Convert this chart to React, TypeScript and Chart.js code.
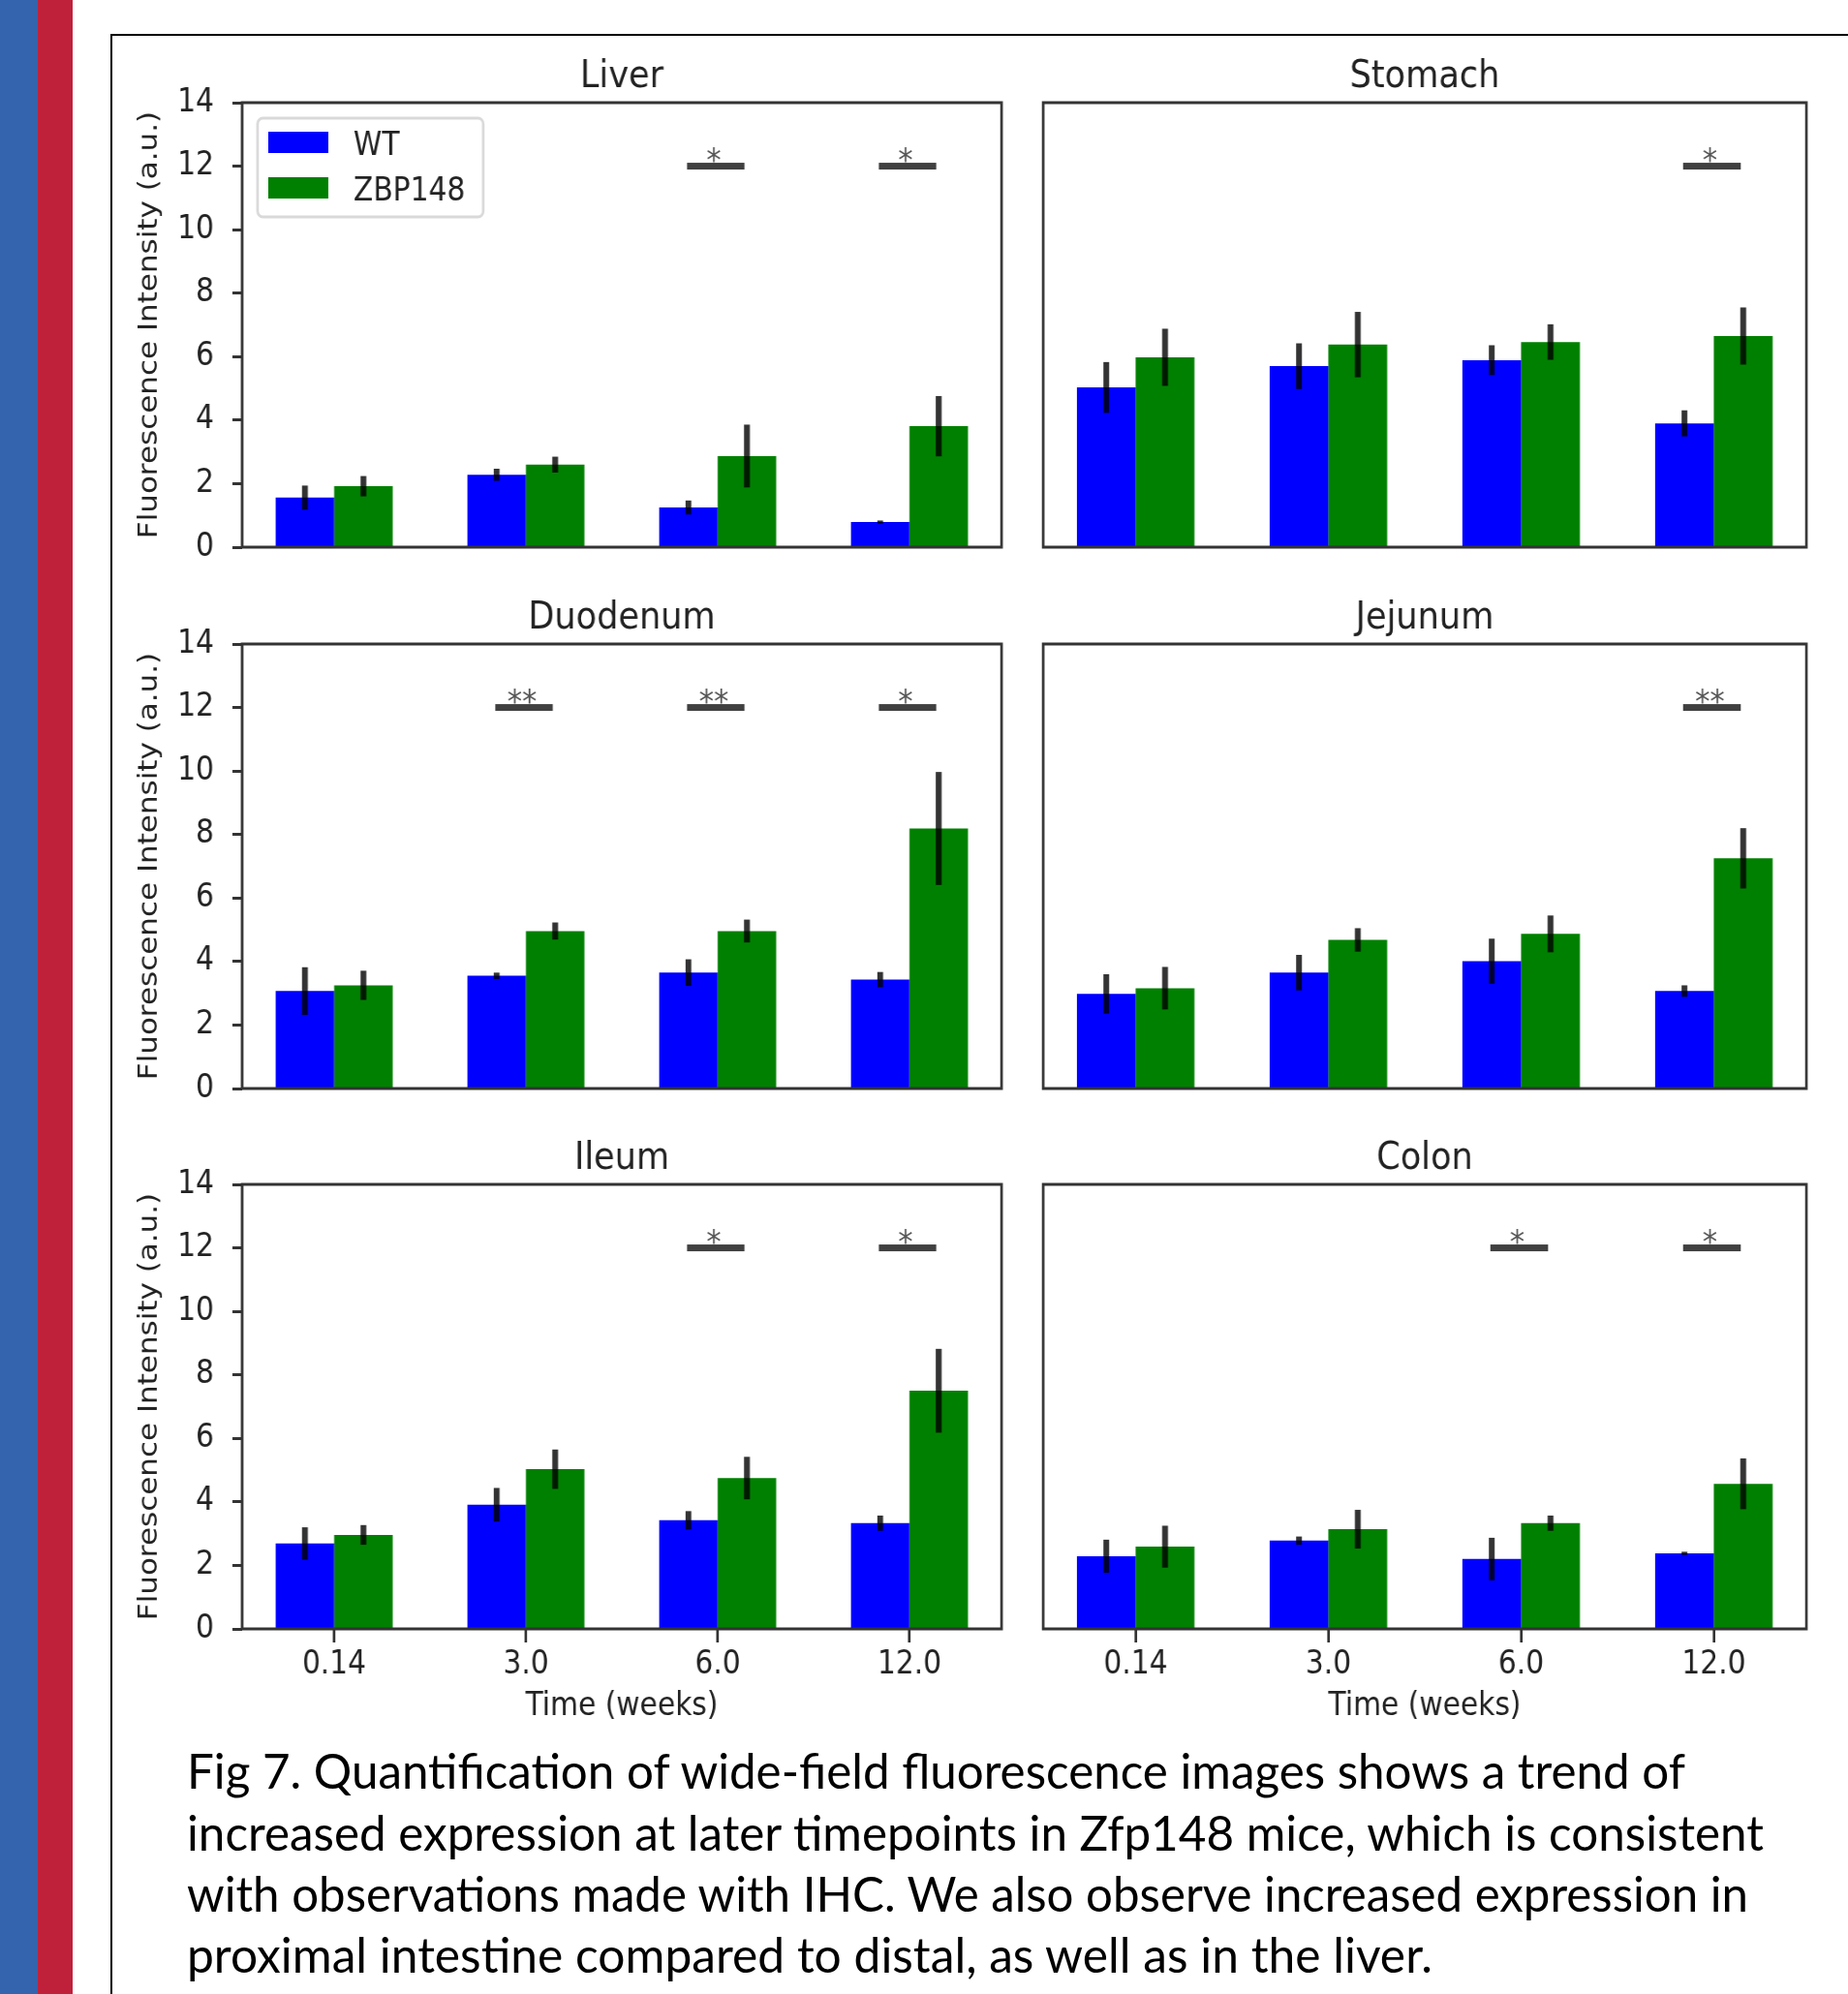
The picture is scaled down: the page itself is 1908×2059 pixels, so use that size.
import React, { useEffect, useLayoutEffect, useRef } from 'react';
import { Chart, registerables } from 'chart.js';

Chart.register(...registerables);

// ---------------- data ----------------
const categories = ['0.14', '3.0', '6.0', '12.0'];
const seriesNames = ['WT', 'ZBP148'];
const seriesColors = ['#0000ff', '#008000'];
const yMin = 0;
const yMax = 14;
const yStep = 2;
const sigLevel = 12;
const xTitle = 'Time (weeks)';
const yTitle = 'Fluorescence Intensity (a.u.)';

const liverWT = [1.56, 2.28, 1.25, 0.79];
const liverWTErr = [0.38, 0.19, 0.22, 0.05];
const liverZBP = [1.92, 2.6, 2.87, 3.81];
const liverZBPErr = [0.32, 0.25, 0.99, 0.95];
const liverSig = ['', '', '*', '*'];

const stomachWT = [5.03, 5.7, 5.89, 3.9];
const stomachWTErr = [0.8, 0.72, 0.47, 0.41];
const stomachZBP = [5.98, 6.38, 6.46, 6.65];
const stomachZBPErr = [0.9, 1.03, 0.56, 0.9];
const stomachSig = ['', '', '', '*'];

const duodenumWT = [3.07, 3.55, 3.65, 3.43];
const duodenumWTErr = [0.75, 0.1, 0.42, 0.24];
const duodenumZBP = [3.25, 4.96, 4.96, 8.19];
const duodenumZBPErr = [0.46, 0.27, 0.36, 1.78];
const duodenumSig = ['', '**', '**', '*'];

const jejunumWT = [2.98, 3.65, 4.01, 3.07];
const jejunumWTErr = [0.62, 0.56, 0.71, 0.18];
const jejunumZBP = [3.16, 4.68, 4.87, 7.25];
const jejunumZBPErr = [0.67, 0.37, 0.58, 0.95];
const jejunumSig = ['', '', '', '**'];

const ileumWT = [2.69, 3.91, 3.42, 3.33];
const ileumWTErr = [0.51, 0.53, 0.29, 0.24];
const ileumZBP = [2.96, 5.03, 4.75, 7.5];
const ileumZBPErr = [0.31, 0.62, 0.67, 1.32];
const ileumSig = ['', '', '*', '*'];

const colonWT = [2.29, 2.78, 2.2, 2.38];
const colonWTErr = [0.52, 0.13, 0.67, 0.05];
const colonZBP = [2.59, 3.14, 3.33, 4.57];
const colonZBPErr = [0.66, 0.61, 0.24, 0.8];
const colonSig = ['', '', '*', '*'];

const captionLines = [
  'Fig 7. Quantification of wide-field fluorescence images shows a trend of',
  'increased expression at later timepoints in Zfp148 mice, which is consistent',
  'with observations made with IHC. We also observe increased expression in',
  'proximal intestine compared to distal, as well as in the liver.',
];

// ---------------- layout ----------------
const SX = 0.9; // horizontal compression of the figure
const FONT = '"DejaVu Sans", "Liberation Sans", sans-serif';
const COLS = [
  { axL: 250, axR: 1034, padL: 135 },
  { axL: 1077, axR: 1865, padL: 20 },
];
const ROW_TOPS = [106, 665, 1223];
const AX_H = 459;
const PAD_T = 75;
const PAD_R = 15;
const TEXT = '#222';

const CAPTION_LEFT = 193;
const CAPTION_ENDS = [1740, 1821, 1805, 1479];
const CAPTION_BASELINES = [1847, 1911, 1974, 2037];
const CAPTION_SIZE = 50;

type PanelProps = {
  title: string;
  wt: number[];
  wtErr: number[];
  zbp: number[];
  zbpErr: number[];
  sig: string[];
  row: number;
  col: number;
  legend?: boolean;
};

function Panel(p: PanelProps) {
  const ref = useRef<HTMLCanvasElement | null>(null);
  const c = COLS[p.col];
  const axTop = ROW_TOPS[p.row];
  const showX = p.row === 2;
  const showY = p.col === 0;
  const padB = showX ? 115 : 60;
  const cssW = c.padL + (c.axR - c.axL) + PAD_R;
  const cssH = PAD_T + AX_H + padB;
  const logW = Math.round(cssW / SX);

  useEffect(() => {
    const canvas = ref.current;
    if (!canvas) return;
    const errs = [p.wtErr, p.zbpErr];

    const panelPlugin = {
      id: 'panelDecor',
      afterDatasetsDraw(chart: any) {
        const { ctx } = chart;
        const xs = chart.scales.x;
        const ys = chart.scales.y;
        ctx.save();
        // error bars
        chart.data.datasets.forEach((ds: any, di: number) => {
          const meta = chart.getDatasetMeta(di);
          meta.data.forEach((el: any, i: number) => {
            const v = ds.data[i].y;
            const e = errs[di][i];
            ctx.strokeStyle = 'rgba(0,0,0,0.8)';
            ctx.lineWidth = 6 / SX;
            ctx.beginPath();
            ctx.moveTo(el.x, ys.getPixelForValue(v + e));
            ctx.lineTo(el.x, ys.getPixelForValue(v - e));
            ctx.stroke();
          });
        });
        // significance markers
        const yS = ys.getPixelForValue(sigLevel);
        p.sig.forEach((s, i) => {
          if (!s) return;
          const x0 = xs.getPixelForValue(i - 0.16);
          const x1 = xs.getPixelForValue(i + 0.14);
          ctx.fillStyle = '#404040';
          ctx.fillRect(x0, yS - 3.5, x1 - x0, 7);
          ctx.fillStyle = '#555';
          ctx.font = `34px ${FONT}`;
          ctx.textAlign = 'center';
          ctx.textBaseline = 'alphabetic';
          ctx.fillText(s, xs.getPixelForValue(i - 0.02), yS + 5);
        });
        ctx.restore();
      },
      afterDraw(chart: any) {
        const { ctx, chartArea: ca } = chart;
        ctx.save();
        ctx.strokeStyle = '#333';
        ctx.lineWidth = 3;
        ctx.strokeRect(ca.left, ca.top, ca.right - ca.left, ca.bottom - ca.top);
        ctx.fillStyle = TEXT;
        ctx.font = `39px ${FONT}`;
        ctx.textAlign = 'center';
        ctx.textBaseline = 'alphabetic';
        ctx.fillText(p.title, (ca.left + ca.right) / 2, ca.top - 16);
        if (p.legend) {
          const bx = ca.left + 16 / SX;
          const by = ca.top + 16;
          const bw = 233 / SX;
          const bh = 102;
          ctx.beginPath();
          if ((ctx as any).roundRect) (ctx as any).roundRect(bx, by, bw, bh, 6);
          else ctx.rect(bx, by, bw, bh);
          ctx.fillStyle = 'rgba(255,255,255,0.85)';
          ctx.fill();
          ctx.strokeStyle = '#d9d9d9';
          ctx.lineWidth = 3;
          ctx.stroke();
          chart.data.datasets.forEach((ds: any, di: number) => {
            ctx.fillStyle = ds.backgroundColor;
            ctx.fillRect(bx + 11 / SX, by + 14 + di * 47, 62 / SX, 22);
            ctx.fillStyle = TEXT;
            ctx.font = `33px ${FONT}`;
            ctx.textAlign = 'left';
            ctx.fillText(ds.label, bx + 99 / SX, by + 38 + di * 47);
          });
        }
        ctx.restore();
      },
    };

    const chart = new Chart(canvas, {
      type: 'bar',
      data: {
        datasets: [
          {
            label: seriesNames[0],
            data: p.wt.map((y, i) => ({ x: i, y })),
            backgroundColor: seriesColors[0],
          },
          {
            label: seriesNames[1],
            data: p.zbp.map((y, i) => ({ x: i, y })),
            backgroundColor: seriesColors[1],
          },
        ],
      } as any,
      options: {
        responsive: false,
        maintainAspectRatio: false,
        animation: false,
        devicePixelRatio: 1,
        events: [],
        layout: { padding: { left: 0, right: PAD_R / SX, top: PAD_T, bottom: 0 } },
        datasets: { bar: { categoryPercentage: 0.61, barPercentage: 1, borderWidth: 0 } },
        plugins: {
          legend: { display: false },
          tooltip: { enabled: false },
          title: { display: false },
        },
        scales: {
          x: {
            type: 'linear',
            min: -0.48,
            max: 3.48,
            offset: false,
            afterBuildTicks: (s: any) => {
              s.ticks = categories.map((_, i) => ({ value: i }));
            },
            afterFit: (s: any) => {
              s.height = padB;
            },
            border: { display: false },
            grid: {
              offset: false,
              drawOnChartArea: false,
              drawTicks: showX,
              tickLength: 14,
              tickWidth: 3,
              tickColor: '#333',
            },
            ticks: {
              display: showX,
              autoSkip: false,
              maxRotation: 0,
              minRotation: 0,
              padding: 4,
              color: TEXT,
              font: { family: FONT, size: 33 },
              callback: (v: any) => categories[v as number] ?? '',
            },
            title: {
              display: showX,
              text: xTitle,
              color: TEXT,
              font: { family: FONT, size: 33 },
              padding: { top: 0, bottom: 15 },
            },
          },
          y: {
            min: yMin,
            max: yMax,
            afterFit: (s: any) => {
              s.width = c.padL / SX;
            },
            border: { display: false },
            grid: {
              drawOnChartArea: false,
              drawTicks: showY,
              tickLength: 10 / SX,
              tickWidth: 3,
              tickColor: '#333',
            },
            ticks: {
              display: showY,
              stepSize: yStep,
              padding: 19 / SX,
              color: TEXT,
              font: { family: FONT, size: 33 },
            },
            title: {
              display: showY,
              text: yTitle,
              color: TEXT,
              font: { family: FONT, size: 31 },
              padding: { top: 40 / SX - 18.6, bottom: 0 },
            },
          },
        },
      } as any,
      plugins: [panelPlugin as any],
    });
    return () => chart.destroy();
  }, []);

  return (
    <canvas
      ref={ref}
      width={logW}
      height={cssH}
      style={{
        position: 'absolute',
        left: c.axL - c.padL,
        top: axTop - PAD_T,
        width: cssW,
        height: cssH,
      }}
    />
  );
}

function Caption() {
  const refs = useRef<(HTMLSpanElement | null)[]>([]);
  useLayoutEffect(() => {
    const fit = () => {
      refs.current.forEach((el, i) => {
        if (!el) return;
        el.style.transform = 'none';
        const w = el.getBoundingClientRect().width;
        if (w > 0) {
          const target = CAPTION_ENDS[i] - CAPTION_LEFT;
          el.style.transform = `scaleX(${target / w})`;
        }
      });
    };
    fit();
    const fonts = (document as any).fonts;
    if (fonts && fonts.ready) fonts.ready.then(fit);
  }, []);
  const baseOff = CAPTION_SIZE * (1 - 1.2) / 2 + 0.987 * CAPTION_SIZE;
  return (
    <>
      {captionLines.map((t, i) => (
        <span
          key={i}
          ref={(el) => {
            refs.current[i] = el;
          }}
          style={{
            position: 'absolute',
            left: CAPTION_LEFT,
            top: CAPTION_BASELINES[i] - baseOff,
            fontFamily: 'Lato, "Open Sans", sans-serif',
            fontSize: CAPTION_SIZE,
            lineHeight: `${CAPTION_SIZE}px`,
            whiteSpace: 'nowrap',
            transformOrigin: '0 0',
            color: '#000',
          }}
        >
          {t}
        </span>
      ))}
    </>
  );
}

export default function App() {
  return (
    <div
      style={{
        position: 'absolute',
        left: 0,
        top: 0,
        width: 1908,
        height: 2059,
        background: '#fff',
        overflow: 'hidden',
      }}
    >
      <div style={{ position: 'absolute', left: 0, top: 0, width: 39, height: 2059, background: '#3364ad' }} />
      <div style={{ position: 'absolute', left: 39, top: 0, width: 36, height: 2059, background: '#c0213a' }} />
      <div
        style={{
          position: 'absolute',
          left: 114,
          top: 35,
          width: 1908 - 114,
          height: 2059 - 35,
          borderLeft: '2px solid #000',
          borderTop: '2px solid #000',
          boxSizing: 'border-box',
        }}
      />
      <Panel title="Liver" wt={liverWT} wtErr={liverWTErr} zbp={liverZBP} zbpErr={liverZBPErr} sig={liverSig} row={0} col={0} legend />
      <Panel title="Stomach" wt={stomachWT} wtErr={stomachWTErr} zbp={stomachZBP} zbpErr={stomachZBPErr} sig={stomachSig} row={0} col={1} />
      <Panel title="Duodenum" wt={duodenumWT} wtErr={duodenumWTErr} zbp={duodenumZBP} zbpErr={duodenumZBPErr} sig={duodenumSig} row={1} col={0} />
      <Panel title="Jejunum" wt={jejunumWT} wtErr={jejunumWTErr} zbp={jejunumZBP} zbpErr={jejunumZBPErr} sig={jejunumSig} row={1} col={1} />
      <Panel title="Ileum" wt={ileumWT} wtErr={ileumWTErr} zbp={ileumZBP} zbpErr={ileumZBPErr} sig={ileumSig} row={2} col={0} />
      <Panel title="Colon" wt={colonWT} wtErr={colonWTErr} zbp={colonZBP} zbpErr={colonZBPErr} sig={colonSig} row={2} col={1} />
      <Caption />
    </div>
  );
}
